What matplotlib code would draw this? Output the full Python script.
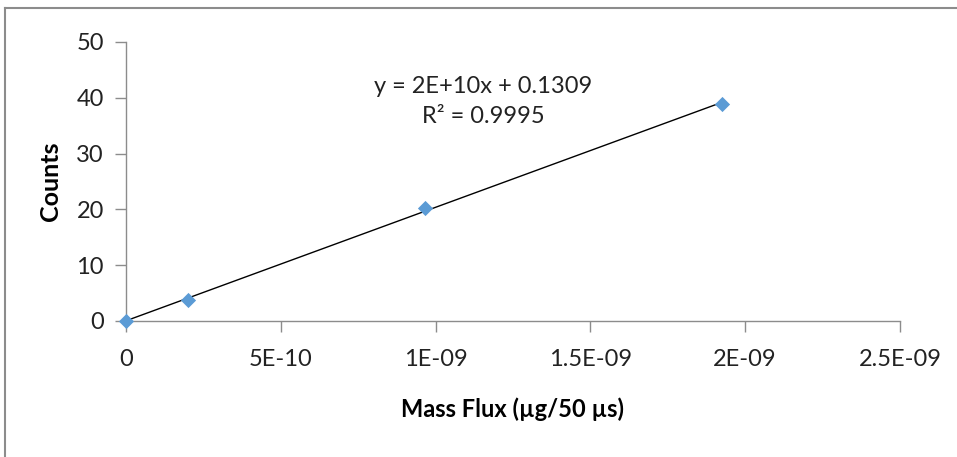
import numpy as np
import matplotlib.pyplot as plt
from matplotlib.lines import Line2D

plt.rcParams['font.family'] = ['Lato', 'DejaVu Sans']

# data
mass_flux = [0.0, 2.0e-10, 9.65e-10, 1.925e-9]
counts = [0.0, 3.8, 20.3, 38.9]
xticks = [0, 5e-10, 1e-9, 1.5e-9, 2e-9, 2.5e-9]
xticklabels = ['0', '5E-10', '1E-09', '1.5E-09', '2E-09', '2.5E-09']
yticks = [0, 10, 20, 30, 40, 50]
eq_text = 'y = 2E+10x + 0.1309\nR² = 0.9995'

fig = plt.figure(figsize=(9.57, 4.57), dpi=100)
ax = fig.add_axes([0.1317, 0.2976, 0.8087, 0.6105])

# linear trendline
slope, icept = np.polyfit(mass_flux, counts, 1)
xl = np.array([mass_flux[0], mass_flux[-1]])
ax.plot(xl, slope*xl + icept, color='black', lw=1.0, zorder=2)

ax.scatter(mass_flux, counts, marker='D', s=60, color='#5b9bd5', zorder=3,
           clip_on=False, linewidths=0)

ax.set_xlim(0, 2.5e-9)
ax.set_ylim(0, 50)
ax.set_xticks(xticks)
ax.set_xticklabels(xticklabels)
ax.set_yticks(yticks)

for s in ['top', 'right']:
    ax.spines[s].set_visible(False)
for s in ['left', 'bottom']:
    ax.spines[s].set_color('#8c8c8c')
    ax.spines[s].set_linewidth(1.0)
ax.tick_params(axis='both', colors='#8c8c8c', labelcolor='#222222',
               labelsize=17, length=8, width=1.0)
ax.tick_params(axis='x', pad=12)
ax.tick_params(axis='y', pad=8)

ax.set_xlabel('Mass Flux (µg/50 µs)', fontsize=17, fontweight='bold', labelpad=20)
ax.set_ylabel('Counts', fontsize=18, fontweight='bold', labelpad=10)

ax.text(1.155e-9, 39.3, eq_text, ha='center', va='center', fontsize=17,
        color='#222222', linespacing=1.55)

# outer chart border (top and left only visible)
fig.add_artist(Line2D([5/957, 1], [1-8/457, 1-8/457], color='#8c8c8c', lw=1.5,
                      transform=fig.transFigure))
fig.add_artist(Line2D([5/957, 5/957], [0, 1-8/457], color='#8c8c8c', lw=1.5,
                      transform=fig.transFigure))

fig.savefig('out.png', dpi=100, facecolor='white')
